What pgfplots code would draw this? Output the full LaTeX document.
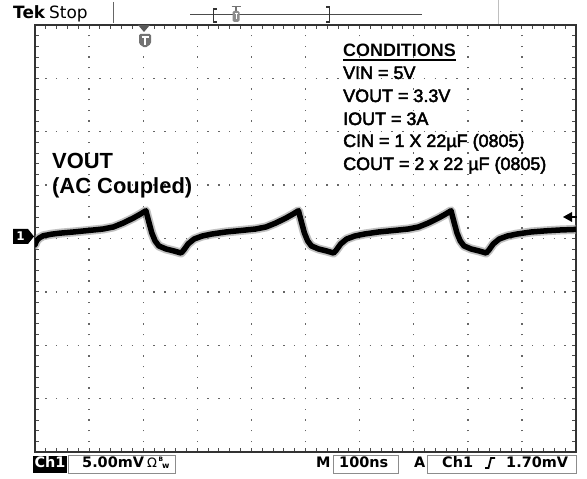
\documentclass[border=0pt]{standalone}
\usepackage{fontspec}
\setmainfont{Liberation Sans}
\newfontfamily\dv{DejaVu Sans}
\usepackage{pgfplots}
\usepackage{pgfplotstable}
\pgfplotsset{compat=1.18}
\font\condf="Liberation Sans:embolden=2.6" at 18pt

\pgfplotstableread{
t v
0 -0.6
3 -0.2
8 0.05
15 0.25
30 0.4
46 0.5
71 0.61
99 0.75
126 0.89
145 1.08
163 1.45
182 1.92
195 2.29
205 2.6
210.5 1.54
216 0.51
222 -0.23
229 -0.70
242 -0.98
257 -1.17
270 -1.36
275 -1.08
283 -0.51
294 -0.05
309 0.23
327 0.42
353 0.61
381 0.75
408 0.89
427 1.08
445 1.45
464 1.92
477 2.29
487 2.6
492.5 1.54
498 0.51
504 -0.23
511 -0.70
524 -0.98
539 -1.17
552 -1.36
557 -1.08
565 -0.51
576 -0.05
591 0.23
609 0.42
635 0.61
663 0.75
690 0.89
709 1.08
727 1.45
746 1.92
759 2.29
769 2.6
774.5 1.54
780 0.51
786 -0.23
793 -0.70
806 -0.98
821 -1.17
834 -1.36
839 -1.08
847 -0.51
858 -0.05
873 0.23
891 0.42
917 0.61
945 0.72
972 0.8
1000 0.85
}\trace

\begin{document}
\begin{tikzpicture}[x=1bp,y=1bp]
\useasboundingbox (0,0) rectangle (587,479);
\fill[white] (0,0) rectangle (587,479);
\begin{axis}[
  at={(35bp,27bp)}, anchor=south west, scale only axis,
  width=541bp, height=427bp,
  xmin=0, xmax=1000, ymin=-20, ymax=20,
  xtick={0,100,...,1000}, ytick={-20,-15,...,20},
  minor x tick num=4, minor y tick num=4,
  xticklabels={}, yticklabels={},
  xticklabel style={opacity=0}, yticklabel style={opacity=0},
  tick align=inside, major tick length=4bp, minor tick length=4bp,
  tick style={black!70, line width=0.9bp},
  grid=major,
  x grid style={black!60, line width=1.4bp, dash pattern=on 1.4bp off 9.275bp, dash phase=0.7bp},
  y grid style={black!60, line width=1.4bp, dash pattern=on 1.4bp off 9.42bp, dash phase=0.7bp},
  axis line style={black!80, line width=1.6bp},
]
\addplot[no marks, line width=9bp, black!40, opacity=0.6, line join=round, line cap=round] table[x=t, y=v] {\trace};
\addplot[no marks, line width=5.5bp, black, line join=round, line cap=round] table[x=t, y=v] {\trace};
\end{axis}

% top bar
\node[anchor=base west, inner sep=0] at (13,460.5) {\dv\fontsize{17}{18}\selectfont\bfseries Tek};
\node[anchor=base west, inner sep=0] at (49,460.5) {\dv\fontsize{17}{18}\selectfont Stop};
\draw[black!60, line width=1bp] (113,477) -- (113,456);
\draw[black!70, line width=1bp] (190,464.5) -- (422,464.5);
\draw[black!80, line width=1.2bp] (217,470) -- (213.5,470) -- (213.5,457) -- (217,457);
\draw[black!80, line width=1.2bp] (326,472) -- (329.5,472) -- (329.5,457) -- (326,457);
\draw[black!55, line width=1.3bp] (231.5,472.5) -- (240.5,472.5);
\draw[black!55, line width=1.3bp] (236,472.5) -- (236,467);
\fill[black!45, rounded corners=1.5bp] (232.5,468) rectangle (239.5,457);
\draw[white, line width=0.8bp] (234.5,465.5) -- (237.5,465.5) (236,465.5) -- (236,459.5);
\draw[black!25, line width=1bp] (498,479) -- (498,455);

% trigger position marker
\fill[black!65] (138,454) -- (150,454) -- (144,447) -- cycle;
\fill[black!55, rounded corners=1.5bp] (139,445) -- (151,445) -- (151,435) -- (145,431) -- (139,435) -- cycle;
\draw[white, line width=1.2bp] (141.5,442) -- (148.5,442) (145,442) -- (145,434);

% channel marker
\fill[black] (13,250) -- (28,250) -- (34,242.5) -- (28,235) -- (13,235) -- cycle;
\node[anchor=center, inner sep=0, text=white] at (20.5,242.5) {\dv\fontsize{12}{12}\selectfont\bfseries 1};

% trigger level arrow
\fill[black] (563,262) -- (572,267) -- (572,257) -- cycle;
\draw[black, line width=1.2bp] (568,262) -- (577,262);

% annotations
\node[anchor=base west, inner sep=0] at (52,310) {\fontsize{22}{24}\selectfont\bfseries VOUT};
\node[anchor=base west, inner sep=0] at (52,285) {\fontsize{22}{24}\selectfont\bfseries (AC Coupled)};

\node[anchor=base west, inner sep=0] (cond) at (343,422) {\fontsize{18}{20}\selectfont\bfseries CONDITIONS};
\draw[black, line width=1.6bp] ([yshift=-3bp]cond.base west) -- ([yshift=-3bp]cond.base east);
\node[anchor=base west, inner sep=0] at (343,400) {\condf VIN = 5V};
\node[anchor=base west, inner sep=0] at (343,377) {\condf VOUT = 3.3V};
\node[anchor=base west, inner sep=0] at (343,354) {\condf IOUT = 3A};
\node[anchor=base west, inner sep=0] at (343,332) {\condf CIN = 1 X 22µF (0805)};
\node[anchor=base west, inner sep=0] at (343,309) {\condf COUT = 2 x 22 µF (0805)};

% bottom bar
\fill[black] (33,23) rectangle (67,6);
\node[anchor=base, inner sep=0, text=white] at (50,11) {\dv\fontsize{14.5}{15}\selectfont\bfseries Ch1};
\draw[black!45, line width=0.9bp] (68,24) rectangle (175,6);
\node[anchor=base west, inner sep=0] at (82,11) {\dv\fontsize{14.5}{15}\selectfont\bfseries 5.00mV};
\node[anchor=base west, inner sep=0] at (147,11) {\dv\fontsize{13}{15}\selectfont Ω};
\node[anchor=base west, inner sep=0] at (158.5,17) {\dv\fontsize{6}{6}\selectfont\bfseries B};
\node[anchor=base west, inner sep=0] at (162,10.5) {\dv\fontsize{8}{8}\selectfont\bfseries w};
\node[anchor=base west, inner sep=0] at (316,11) {\dv\fontsize{14.5}{15}\selectfont\bfseries M};
\draw[black!45, line width=0.9bp] (333,24) rectangle (398,6);
\node[anchor=base west, inner sep=0] at (339,11) {\dv\fontsize{14.5}{15}\selectfont\bfseries 100ns};
\node[anchor=base west, inner sep=0] at (414,11) {\dv\fontsize{14.5}{15}\selectfont\bfseries A};
\draw[black!45, line width=0.9bp] (427,24) rectangle (576,6);
\node[anchor=base west, inner sep=0] at (442,11) {\dv\fontsize{14.5}{15}\selectfont\bfseries Ch1};
\draw[black, line width=1.8bp] (485,11) -- (488.5,11) -- (491,21) -- (495,21);
\node[anchor=base west, inner sep=0] at (506,11) {\dv\fontsize{14.5}{15}\selectfont\bfseries 1.70mV};
\end{tikzpicture}
\end{document}
